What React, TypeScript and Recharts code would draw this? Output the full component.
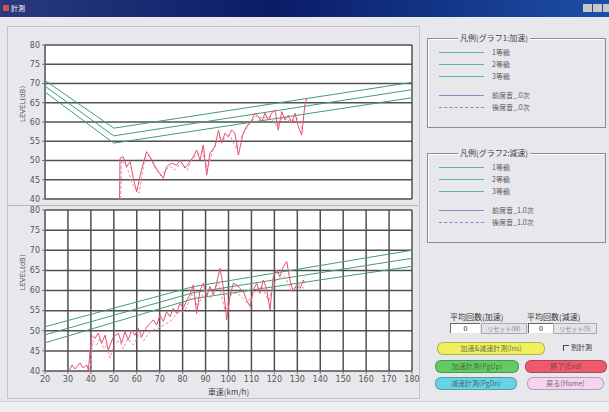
import React from "react";
import { LineChart, Line, XAxis, YAxis, CartesianGrid } from "recharts";

const speedTicks = [20, 30, 40, 50, 60, 70, 80, 90, 100, 110, 120, 130, 140, 150, 160, 170, 180];
const levelTicks = [40, 45, 50, 55, 60, 65, 70, 75, 80];

// graph 1 (accel) grade limits
const accGrade1 = [
  { speed: 20, level: 70.8 },
  { speed: 50, level: 58.4 },
  { speed: 180, level: 70.3 },
];
const accGrade2 = [
  { speed: 20, level: 69.3 },
  { speed: 50, level: 56.4 },
  { speed: 180, level: 68.4 },
];
const accGrade3 = [
  { speed: 20, level: 67.8 },
  { speed: 50, level: 54.5 },
  { speed: 180, level: 66.3 },
];

// graph 2 (decel) grade limits
const decGrade1 = [
  { speed: 20, level: 51 },
  { speed: 85, level: 61 },
  { speed: 180, level: 70 },
];
const decGrade2 = [
  { speed: 20, level: 49 },
  { speed: 85, level: 59.5 },
  { speed: 180, level: 68 },
];
const decGrade3 = [
  { speed: 20, level: 47 },
  { speed: 85, level: 58 },
  { speed: 180, level: 66 },
];

const accFront = [
  { speed: 52.5, level: 40 }, { speed: 52.7, level: 50.6 }, { speed: 54.1, level: 51 },
  { speed: 55.6, level: 48.4 }, { speed: 57.1, level: 49.7 }, { speed: 58.5, level: 45.4 },
  { speed: 60, level: 41.9 }, { speed: 62, level: 47.5 }, { speed: 64.3, level: 52.3 },
  { speed: 66.5, level: 50.1 }, { speed: 69.4, level: 47.1 }, { speed: 71.6, level: 45.4 },
  { speed: 73, level: 48.4 }, { speed: 75.2, level: 49.3 }, { speed: 77.4, level: 48.8 },
  { speed: 78.9, level: 50.1 }, { speed: 81, level: 48 }, { speed: 83.2, level: 49.7 },
  { speed: 84.7, level: 51 }, { speed: 86.1, level: 52.7 }, { speed: 87.6, level: 50.1 },
  { speed: 89, level: 54 }, { speed: 90.5, level: 46.2 }, { speed: 91.9, level: 51.9 },
  { speed: 94.1, level: 53.6 }, { speed: 95.6, level: 57.9 }, { speed: 97, level: 54.5 },
  { speed: 98.5, level: 57.1 }, { speed: 99.9, level: 56.2 }, { speed: 101.4, level: 57.9 },
  { speed: 102.8, level: 57.1 }, { speed: 104.3, level: 51.4 }, { speed: 106.4, level: 57.1 },
  { speed: 107.9, level: 58.8 }, { speed: 110.1, level: 60.5 }, { speed: 111.5, level: 62.3 },
  { speed: 113, level: 61.4 }, { speed: 114.5, level: 60.1 }, { speed: 115.9, level: 62.3 },
  { speed: 117.4, level: 60.5 }, { speed: 118.8, level: 62.3 }, { speed: 120.3, level: 63.1 },
  { speed: 121.7, level: 57.9 }, { speed: 123.2, level: 62.7 }, { speed: 124.6, level: 60.5 },
  { speed: 126.1, level: 61.8 }, { speed: 127.5, level: 59.7 }, { speed: 129, level: 62.3 },
  { speed: 130.4, level: 58.8 }, { speed: 131.9, level: 56.6 }, { speed: 133.3, level: 64.4 },
  { speed: 134.1, level: 66.1 },
];

const accRear = [
  { speed: 53, level: 40 }, { speed: 53.3, level: 50 }, { speed: 55, level: 49 },
  { speed: 56.5, level: 47 }, { speed: 58, level: 44 }, { speed: 59.5, level: 42.5 },
  { speed: 61, level: 41.5 }, { speed: 63.5, level: 50.5 }, { speed: 65.5, level: 51.5 },
  { speed: 68, level: 48 }, { speed: 70.5, level: 46 }, { speed: 72.5, level: 47.5 },
  { speed: 74.5, level: 48.5 }, { speed: 76.5, level: 47.5 }, { speed: 79.5, level: 49.5 },
  { speed: 82, level: 47.5 }, { speed: 84, level: 50.5 }, { speed: 86.5, level: 51.5 },
  { speed: 88.5, level: 52.5 }, { speed: 90.8, level: 47.5 }, { speed: 93, level: 52.5 },
  { speed: 96, level: 56 }, { speed: 98, level: 55.5 }, { speed: 100.5, level: 56.5 },
  { speed: 103.5, level: 53 }, { speed: 105.5, level: 56 }, { speed: 108.5, level: 59 },
  { speed: 112, level: 61.5 }, { speed: 115, level: 61 }, { speed: 118, level: 61.5 },
  { speed: 121, level: 59 }, { speed: 124, level: 61.5 }, { speed: 127, level: 60 },
  { speed: 130, level: 61 }, { speed: 132.5, level: 57.5 },
];

const decFront = [
  { speed: 30.5, level: 40 }, { speed: 31.8, level: 41.5 }, { speed: 33, level: 40.5 },
  { speed: 35.3, level: 42 }, { speed: 36.5, level: 40.8 }, { speed: 38.3, level: 41.5 },
  { speed: 38.9, level: 40.2 }, { speed: 40.3, level: 48.9 }, { speed: 41.8, level: 48.1 },
  { speed: 43.2, level: 49.4 }, { speed: 44.7, level: 46.9 }, { speed: 46.2, level: 48.9 },
  { speed: 47.6, level: 45.2 }, { speed: 49.8, level: 48.5 }, { speed: 52, level: 49.4 },
  { speed: 53.4, level: 46.9 }, { speed: 54.9, level: 49.8 }, { speed: 56.3, level: 47.7 },
  { speed: 57.8, level: 50.2 }, { speed: 59.2, level: 48.9 }, { speed: 60.7, level: 50.6 },
  { speed: 62.1, level: 48.5 }, { speed: 63.6, level: 50.2 }, { speed: 65, level: 51.4 },
  { speed: 67.2, level: 52.7 }, { speed: 68.7, level: 51.4 }, { speed: 70.1, level: 53.9 },
  { speed: 71.6, level: 52.3 }, { speed: 73, level: 54.7 }, { speed: 74.5, level: 53.5 },
  { speed: 75.9, level: 55.6 }, { speed: 77.4, level: 54.3 }, { speed: 78.8, level: 56.8 },
  { speed: 80.3, level: 55.6 }, { speed: 81.8, level: 57.6 }, { speed: 83.2, level: 58.9 },
  { speed: 84.7, level: 61.4 }, { speed: 86.1, level: 54.3 }, { speed: 87.6, level: 60.1 },
  { speed: 89, level: 61.8 }, { speed: 90.5, level: 58.5 }, { speed: 91.9, level: 61 },
  { speed: 93.4, level: 58.9 }, { speed: 94.8, level: 61.8 }, { speed: 96.3, level: 65.5 },
  { speed: 97.7, level: 61 }, { speed: 99.2, level: 52.7 }, { speed: 100.6, level: 58.5 },
  { speed: 102.1, level: 61.8 }, { speed: 103.6, level: 61.4 }, { speed: 105, level: 60.5 },
  { speed: 106.5, level: 59.7 }, { speed: 107.9, level: 57.6 }, { speed: 109.4, level: 56 },
  { speed: 110.8, level: 60.1 }, { speed: 112.3, level: 61.8 }, { speed: 113.7, level: 59.3 },
  { speed: 115.2, level: 62.6 }, { speed: 116.6, level: 60.5 }, { speed: 118.1, level: 55.2 },
  { speed: 119.5, level: 63.4 }, { speed: 121, level: 65.1 }, { speed: 122.4, level: 63.4 },
  { speed: 123.9, level: 65.9 }, { speed: 125.4, level: 67.2 }, { speed: 126.8, level: 62.6 },
  { speed: 128.2, level: 59.7 }, { speed: 129.7, level: 61.4 }, { speed: 131.2, level: 60.5 },
  { speed: 132.6, level: 62.6 }, { speed: 133.3, level: 61.8 },
];

const decRear = [
  { speed: 39.5, level: 40 }, { speed: 40.8, level: 47.5 }, { speed: 42.5, level: 46.5 },
  { speed: 44, level: 48 }, { speed: 45.5, level: 45.5 }, { speed: 47, level: 46.5 },
  { speed: 48.3, level: 43.2 }, { speed: 50.5, level: 47 }, { speed: 52.5, level: 47.5 },
  { speed: 54, level: 45.5 }, { speed: 56, level: 48 }, { speed: 58.5, level: 46.5 },
  { speed: 61, level: 49 }, { speed: 63, level: 47.5 }, { speed: 66, level: 50 },
  { speed: 69, level: 50.5 }, { speed: 72, level: 51.5 }, { speed: 75, level: 52.5 },
  { speed: 78, level: 54.5 }, { speed: 81, level: 55 }, { speed: 84, level: 59 },
  { speed: 86.5, level: 56 }, { speed: 89.5, level: 60 }, { speed: 92.5, level: 58 },
  { speed: 95.5, level: 62 }, { speed: 98.5, level: 55 }, { speed: 101.5, level: 59.5 },
  { speed: 104.5, level: 59 }, { speed: 108, level: 57 }, { speed: 111.5, level: 59.5 },
  { speed: 114.5, level: 61 }, { speed: 117.5, level: 57.5 }, { speed: 120.5, level: 62.5 },
  { speed: 124.5, level: 63.5 }, { speed: 127.5, level: 60 }, { speed: 130.5, level: 61.5 },
  { speed: 133, level: 60.5 },
];

const legendGrades = ["1等級", "2等級", "3等級"];

const GREEN = "#3f9e72";
const RED = "#e4506f";
const tickStyle = { fontSize: 8, fill: "#555", fontFamily: "DejaVu Sans" };

function Plot({ top, height, grades, front, rear, showX }: any) {
  return (
    <div style={{ position: "absolute", left: 10, top, width: 410, height }}>
      <LineChart
        width={410}
        height={height}
        margin={{ top: 5, right: 8, left: 5, bottom: showX ? 4 : 0 }}
      >
        <CartesianGrid stroke="#505050" strokeWidth={1.5} fill="#fff" fillOpacity={1} />
        <XAxis
          type="number"
          dataKey="speed"
          domain={[20, 180]}
          ticks={speedTicks}
          interval={0}
          allowDataOverflow
          height={showX ? 26 : 4}
          tick={showX ? tickStyle : false}
          tickLine={showX ? { stroke: "#777" } : false}
          tickSize={3}
          axisLine={false}
          label={
            showX
              ? { value: "車速(km/h)", position: "insideBottom", offset: 2, style: { fontSize: 8, fill: "#444", fontFamily: "Noto Sans CJK JP" } }
              : undefined
          }
        />
        <YAxis
          type="number"
          domain={[40, 80]}
          ticks={levelTicks}
          interval={0}
          allowDataOverflow
          width={30}
          tick={tickStyle}
          tickSize={3}
          tickLine={{ stroke: "#777" }}
          axisLine={false}
          label={{ value: "LEVEL(dB)", angle: -90, position: "insideLeft", offset: 8, style: { fontSize: 7, fill: "#555", fontFamily: "DejaVu Sans" } }}
        />
        {grades.map((g: any, i: number) => (
          <Line key={i} data={g} dataKey="level" type="linear" stroke={GREEN} strokeWidth={1} dot={false} isAnimationActive={false} />
        ))}
        <Line data={rear} dataKey="level" type="linear" stroke="#ee8aa2" strokeWidth={1} strokeDasharray="3 2" dot={false} isAnimationActive={false} />
        <Line data={front} dataKey="level" type="linear" stroke={RED} strokeWidth={1} dot={false} isAnimationActive={false} />
      </LineChart>
    </div>
  );
}

function LegendBox({ top, title, front, rear }: any) {
  const row = (y: number) => ({ position: "absolute" as const, top: y, left: 0 });
  const label = { position: "absolute" as const, left: 64, top: 0, fontSize: 7, lineHeight: "9px", color: "#555", whiteSpace: "nowrap" as const };
  return (
    <div style={{ position: "absolute", left: 427, top, width: 177, height: 88, border: "1px solid #8c8c90", boxShadow: "1px 1px 0 #fff inset" }}>
      <span style={{ position: "absolute", top: -6, left: 30, background: "#e8e8ec", padding: "0 2px", fontSize: 8, lineHeight: "10px", color: "#444" }}>
        {title}
      </span>
      {legendGrades.map((g, i) => (
        <div key={g} style={row(9 + i * 12)}>
          <div style={{ position: "absolute", left: 11, top: 4, width: 45, height: 0, borderTop: "1px solid #5cb890" }} />
          <span style={label}>{g}</span>
        </div>
      ))}
      <div style={row(52)}>
        <div style={{ position: "absolute", left: 11, top: 4, width: 45, height: 0, borderTop: "1px solid #8a8ac4" }} />
        <span style={label}>{front}</span>
      </div>
      <div style={row(64)}>
        <div style={{ position: "absolute", left: 11, top: 4, width: 45, height: 0, borderTop: "1px dashed #8a8ac4" }} />
        <span style={label}>{rear}</span>
      </div>
    </div>
  );
}

function Pill({ left, top, width, bg, text }: any) {
  return (
    <div
      style={{
        position: "absolute", left, top, width, height: 11, borderRadius: 6, background: bg,
        border: "1px solid rgba(0,0,0,0.25)", fontSize: 7, lineHeight: "11px", textAlign: "center",
        color: "rgba(60,60,60,0.75)", whiteSpace: "nowrap",
      }}
    >
      {text}
    </div>
  );
}

export default function App() {
  return (
    <div
      style={{
        position: "fixed", left: 0, top: 0, width: 609, height: 412, background: "#e8e8ec",
        fontFamily: "'Noto Sans CJK JP', 'DejaVu Sans', sans-serif", overflow: "hidden",
      }}
    >
      {/* title bar */}
      <div style={{ position: "absolute", left: 0, top: 0, width: 609, height: 17, background: "linear-gradient(to right, #2a3a7c, #0a1c68 45%, #1d4fa6)" }}>
        <div style={{ position: "absolute", left: 3, top: 5, width: 6, height: 6, background: "#d05050" }} />
        <span style={{ position: "absolute", left: 11, top: 3, fontSize: 7, lineHeight: "10px", color: "#fff" }}>計測</span>
        <div style={{ position: "absolute", left: 583, top: 4, width: 9, height: 8, background: "#c8c8cc" }} />
        <div style={{ position: "absolute", left: 593, top: 4, width: 9, height: 8, background: "#c8c8cc" }} />
        <div style={{ position: "absolute", left: 603, top: 4, width: 9, height: 8, background: "#c8c8cc" }} />
      </div>
      {/* chart panel frame */}
      <div style={{ position: "absolute", left: 7, top: 26, width: 411, height: 371, border: "1px solid #c4c4c8" }} />
      <div style={{ position: "absolute", left: 8, top: 205, width: 410, height: 0, borderTop: "1px solid #b8b8bc" }} />
      <Plot top={40} height={163} grades={[accGrade1, accGrade2, accGrade3]} front={accFront} rear={accRear} showX={false} />
      <Plot top={205} height={196} grades={[decGrade1, decGrade2, decGrade3]} front={decFront} rear={decRear} showX />

      <LegendBox top={38} title="凡例(グラフ1:加速)" front="前席音_.0次" rear="後席音_.0次" />
      <LegendBox top={153} title="凡例(グラフ2:減速)" front="前席音_1.0次" rear="後席音_1.0次" />

      {/* controls */}
      <span style={{ position: "absolute", left: 450, top: 312, fontSize: 8, lineHeight: "10px", color: "#333" }}>平均回数(加速)</span>
      <span style={{ position: "absolute", left: 527, top: 312, fontSize: 8, lineHeight: "10px", color: "#333" }}>平均回数(減速)</span>
      <div style={{ position: "absolute", left: 450, top: 323, width: 29, height: 9, background: "#fff", borderTop: "1px solid #666", borderLeft: "1px solid #666", fontSize: 7, lineHeight: "9px", textAlign: "center" }}>0</div>
      <div style={{ position: "absolute", left: 481, top: 323, width: 44, height: 9, background: "#e4e4e8", border: "1px solid #aaa", fontSize: 6, lineHeight: "9px", textAlign: "center", color: "#888" }}>リセット(W)</div>
      <div style={{ position: "absolute", left: 528, top: 323, width: 24, height: 9, background: "#fff", borderTop: "1px solid #666", borderLeft: "1px solid #666", fontSize: 7, lineHeight: "9px", textAlign: "center" }}>0</div>
      <div style={{ position: "absolute", left: 553, top: 323, width: 42, height: 9, background: "#e4e4e8", border: "1px solid #aaa", fontSize: 6, lineHeight: "9px", textAlign: "center", color: "#888" }}>リセット(S)</div>

      <Pill left={437} top={342} width={106} bg="#eef060" text="加速&減速計測(Ins)" />
      <div style={{ position: "absolute", left: 563, top: 345, width: 5, height: 5, borderTop: "1px solid #444", borderLeft: "1px solid #444" }} />
      <span style={{ position: "absolute", left: 571, top: 343, fontSize: 7, lineHeight: "9px", color: "#333" }}>別計測</span>
      <Pill left={435} top={360} width={82} bg="#62cc62" text="加速計測(PgUp)" />
      <Pill left={525} top={360} width={80} bg="#ec5a6c" text="終了(End)" />
      <Pill left={435} top={377} width={80} bg="#66d4e4" text="減速計測(PgDn)" />
      <Pill left={527} top={377} width={75} bg="#f4d4ee" text="戻る(Home)" />
      <div style={{ position: "absolute", left: 0, top: 401, width: 609, height: 11, background: "#efeff2", borderTop: "1px solid #d0d0d4" }} />
    </div>
  );
}
